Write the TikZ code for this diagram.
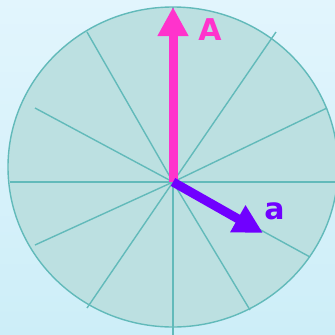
\documentclass[tikz,border=0pt]{standalone}
\usepackage{fontspec}
\newfontfamily\lblfont{DejaVu Sans}[BoldFont={DejaVu Sans Bold}]
\usetikzlibrary{arrows.meta}
\definecolor{bgtop}{HTML}{E2F5FD}
\definecolor{bgbot}{HTML}{CDEEF8}
\definecolor{discfill}{HTML}{BCE0E1}
\definecolor{spoke}{HTML}{62BABA}
\definecolor{pinkA}{HTML}{FF33CC}
\definecolor{violetA}{HTML}{7000FF}
\tikzset{
  spokeline/.style={draw=spoke, line width=1.4pt},
  bigarrow/.style={line width=9pt, -{Triangle[length=29pt,width=29pt]}},
  lbl/.style={font=\lblfont\bfseries\fontsize{30}{30}\selectfont, inner sep=0pt}
}
\begin{document}
\begin{tikzpicture}[x=1pt,y=-1pt]
\useasboundingbox (0,0) rectangle (335,335);
\shade[top color=bgtop, bottom color=bgbot] (0,0) rectangle (335,335);
\filldraw[fill=discfill, draw=spoke, line width=1.4pt] (173,167) ellipse [x radius=165, y radius=160];
\coordinate (o) at (173,182);
\coordinate (s1) at (173,7);
\coordinate (s2) at (276,32);
\coordinate (s3) at (327,108);
\coordinate (s4) at (336,182);
\coordinate (s5) at (310,257);
\coordinate (s6) at (250,310);
\coordinate (s7) at (173,336);
\coordinate (s8) at (87,308);
\coordinate (s9) at (35,245);
\coordinate (s10) at (10,182);
\coordinate (s11) at (35,108);
\coordinate (s12) at (87,32);
\draw[spokeline] (o) -- (s1);
\draw[spokeline] (o) -- (s2);
\draw[spokeline] (o) -- (s3);
\draw[spokeline] (o) -- (s4);
\draw[spokeline] (o) -- (s5);
\draw[spokeline] (o) -- (s6);
\draw[spokeline] (o) -- (s7);
\draw[spokeline] (o) -- (s8);
\draw[spokeline] (o) -- (s9);
\draw[spokeline] (o) -- (s10);
\draw[spokeline] (o) -- (s11);
\draw[spokeline] (o) -- (s12);
\coordinate (Atip) at (173,7);
\coordinate (atip) at (263,233);
\draw[bigarrow, pinkA] (o) -- (Atip);
\draw[bigarrow, violetA] (o) -- (atip);
\node[lbl, text=pinkA] (A) at (210,30) {A};
\node[lbl, text=violetA] (a) at (274.5,211) {a};
\end{tikzpicture}
\end{document}
